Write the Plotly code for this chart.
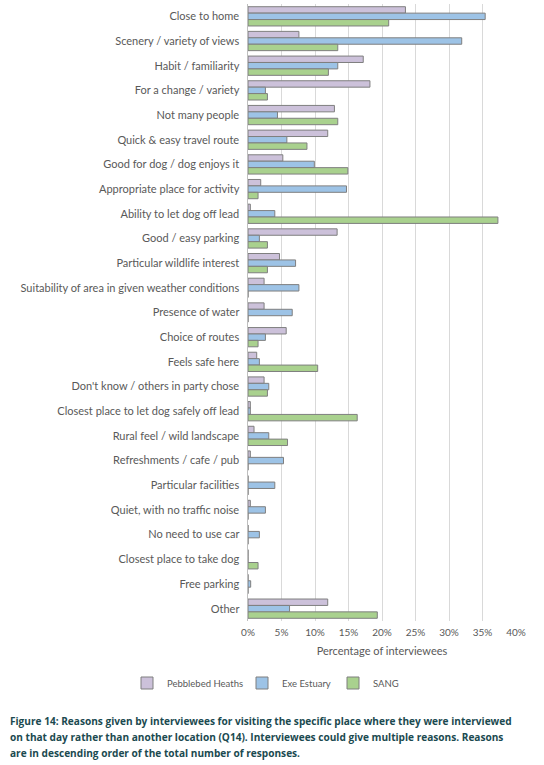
import plotly.graph_objects as go

reasons = [
    "Close to home",
    "Scenery / variety of views",
    "Habit / familiarity",
    "For a change / variety",
    "Not many people",
    "Quick & easy travel route",
    "Good for dog / dog enjoys it",
    "Appropriate place for activity",
    "Ability to let dog off lead",
    "Good / easy parking",
    "Particular wildlife interest",
    "Suitability of area in given weather conditions",
    "Presence of water",
    "Choice of routes",
    "Feels safe here",
    "Don't know / others in party chose",
    "Closest place to let dog safely off lead",
    "Rural feel / wild landscape",
    "Refreshments / cafe / pub",
    "Particular facilities",
    "Quiet, with no traffic noise",
    "No need to use car",
    "Closest place to take dog",
    "Free parking",
    "Other",
]

pebblebed = [23.5, 7.6, 17.2, 18.2, 12.9, 11.9, 5.2, 1.9, 0.35, 13.3, 4.7, 2.4, 2.4,
             5.7, 1.3, 2.4, 0.35, 0.9, 0.35, 0, 0.35, 0, 0, 0, 11.9]
exe_estuary = [35.4, 31.9, 13.4, 2.6, 4.4, 5.8, 9.9, 14.7, 4.0, 1.7, 7.1, 7.6, 6.6,
               2.6, 1.7, 3.1, 0.35, 3.1, 5.3, 4.0, 2.6, 1.7, 0, 0.4, 6.2]
sang = [21.0, 13.4, 12.0, 2.9, 13.4, 8.8, 14.9, 1.5, 37.3, 2.9, 2.9, 0, 0,
        1.5, 10.4, 2.9, 16.3, 5.9, 0, 0, 0, 0, 1.5, 0, 19.3]

# name, values, colour, legend entry width (px)
series = [
    ("Pebblebed Heaths", pebblebed, "#ccc1da", 70),
    ("Exe Estuary", exe_estuary, "#9dc3e6", 46),
    ("SANG", sang, "#a9d18e", 27),
]

x_ticks = [0, 5, 10, 15, 20, 25, 30, 35, 40]

fig = go.Figure()
for name, vals, colour, lw in series:
    fig.add_trace(go.Bar(
        y=reasons,
        x=vals,
        name=name,
        orientation="h",
        legendwidth=lw,
        marker=dict(color=colour, line=dict(color="#7f7f7f", width=1)),
    ))

font = "Lato, 'Open Sans', sans-serif"

W, H = 544, 765
M_L, M_R, M_T, M_B = 248, 28, 4, 144
plot_w = W - M_L - M_R
plot_h = H - M_T - M_B
plot_bottom = H - M_B


def px_x(p):
    return (p - M_L) / plot_w


def px_y(p):
    return (plot_bottom - p) / plot_h


fig.update_layout(
    width=W,
    height=H,
    paper_bgcolor="white",
    plot_bgcolor="white",
    barmode="group",
    bargap=0.22,
    bargroupgap=0,
    margin=dict(l=M_L, r=M_R, t=M_T, b=M_B),
    font=dict(family=font, color="#595959", size=11),
    showlegend=True,
    legend=dict(
        orientation="h",
        xref="paper", yref="paper",
        x=px_x(127), xanchor="left",
        y=px_y(683), yanchor="middle",
        font=dict(size=9.5, color="#595959"),
        itemwidth=30,
        traceorder="normal",
    ),
    xaxis=dict(
        range=[0, 40],
        tickvals=x_ticks,
        ticktext=[f"{v}%" for v in x_ticks],
        showgrid=True,
        gridcolor="#d9d9d9",
        gridwidth=1,
        zeroline=False,
        showline=False,
        tickfont=dict(size=10, color="#595959"),
        ticks="",
        ticklabelstandoff=4,
        title=dict(text="Percentage of interviewees", font=dict(size=11, color="#595959"),
                   standoff=10),
    ),
    yaxis=dict(
        categoryorder="array",
        categoryarray=reasons,
        autorange="reversed",
        showline=True,
        linecolor="#bfbfbf",
        linewidth=1,
        showgrid=False,
        ticks="",
        ticksuffix="  ",
        tickfont=dict(size=11, color="#595959"),
    ),
)

caption = [
    "Figure 14: Reasons given by interviewees for visiting the specific place where they were interviewed",
    "on that day rather than another location (Q14). Interviewees could give multiple reasons. Reasons",
    "are in descending order of the total number of responses.",
]
for i, line in enumerate(caption):
    fig.add_annotation(
        text=f"<b>{line}</b>",
        xref="paper", yref="paper",
        x=px_x(8), xanchor="left",
        y=px_y(721 + i * 16), yanchor="middle",
        showarrow=False,
        align="left",
        font=dict(family="'Open Sans', sans-serif", size=10.1, color="#1b4a50"),
    )

# the page body has a default 8px margin; drop it so the figure fills the window
fig.write_html(
    "out.html",
    config={"displayModeBar": False},
    post_script="document.body.style.margin='0';",
)
